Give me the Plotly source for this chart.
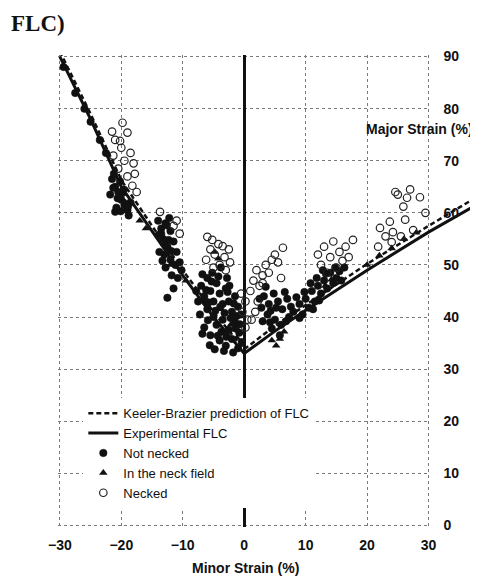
import plotly.graph_objects as go

# ---------------- data ----------------
x_ticks = [-30, -20, -10, 0, 10, 20, 30]
y_ticks = [0, 10, 20, 30, 40, 50, 60, 70, 80, 90]

# Experimental FLC (solid)
flc_x = [-30, -25, -20, -15, -10, -5, 0, 5, 10, 20, 30, 38.5]
flc_y = [90, 78, 65, 56.5, 48, 40, 33, 37.3, 41.3, 49, 56.3, 62]

# Keeler-Brazier prediction (dashed)
kb_x = [-30, -25, -20, -15, -10, -5, 0, 5, 10, 20, 30, 38.5]
kb_y = [91, 79, 66.3, 57.5, 49, 41, 33.8, 38.3, 42.3, 50.2, 57.5, 63.5]

# Not necked (filled circles)
nn_x = [-29.4, -27.5, -26, -25, -23.5, -22.5,
        -21.5, -21, -20.5, -21.8, -20, -19.5, -20.8, -19, -18.5, -19.8, -18.8, -20.2, -21.2,
        -21.3, -20.6, -19.6, -18.9, -20.1, -21,
        -14, -13.5, -12.8, -12, -13.2, -12.5, -11.5, -13.8, -12, -11, -10.5, -12.8, -11.8, -10.8,
        -13.5, -12.2, -11.5, -12.5,
        -13.9, -13, -12.3, -11.2, -10.2, -13.3, -12.6, -11.9,
        -7, -6.5, -6, -5.5, -5, -4.5, -4, -3.5, -3, -2.5, -2, -1.5, -1, -6, -5, -4.5, -3.5,
        -2.5, -1.5, -0.8, -5.5, -4, -3, -2, -1, -6.5, -7.2, -5.2, -3.8, -2.8, -4.8, -3.3,
        -1.8, -0.5, -7.5,
        -6.8, -6.2, -5.8, -5.3, -4.7, -4.2, -3.7, -3.2, -2.7, -2.2, -1.7, -1.2, -0.7, -6.8,
        -5.9, -4.3, -2.9, -1.4, -0.4, -5.6, -3.9, -2.4, -6.3, -7.8,
        3.2, 4, 4.8, 5.5, 6.2, 7, 3.8, 5, 6, 7.3, 4.5, 5.8, 2.8,
        3.5, 4.3, 5.2, 6.6, 7.6, 3, 4.2, 6.8, 2.5,
        8, 9, 10, 10.5, 11, 11.5, 12, 12.5, 13, 13.5, 14, 14.5, 15, 15.5, 11.8, 12.8, 9.5,
        8.5, 9.8, 10.8, 11.2, 12.2, 13.3, 14.8, 15.8, 16.3, 9]
nn_y = [88, 83, 80, 77.5, 74, 71.5,
        66.5, 65, 64, 63.5, 62.5, 61.5, 61, 60.5, 62, 63.8, 59.5, 66, 67.5,
        64.8, 62.8, 64.5, 61.2, 60.3, 60.2,
        58.5, 57, 58, 56.5, 55, 53.5, 54.5, 52.5, 51, 52.5, 50.5, 49.5, 48, 47.5,
        56, 59, 45.5, 43.7,
        55.8, 52, 54.8, 50, 49, 50.8, 57.6, 52.7,
        46, 44, 47.5, 45, 43, 46.5, 44.5, 42.5, 45.5, 43, 41, 44, 42, 41.5, 40, 38.5, 39.5,
        37.5, 39, 37, 36.5, 35.5, 34.5, 35.8, 34, 38, 40.5, 48.5, 49.5, 47.5, 33.8, 33.5,
        33.2, 40.5, 43,
        48.2, 45.2, 42.8, 46.8, 41.2, 47.8, 37.2, 40.8, 44.8, 39.8, 42.6, 40.2, 38.6, 36.8,
        39.4, 36.4, 36.2, 37.8, 35.2, 34.6, 42, 46, 43, 45,
        44, 42.5, 44.5, 43, 41.5, 43.5, 40.5, 39.5, 38.5, 40, 37.8, 36.5, 41.8,
        45.8, 41.2, 41.8, 44.8, 42, 39.2, 39, 39.2, 43.5,
        41, 42.5, 43.5, 41.8, 45, 43, 46, 44.5, 47, 45.5, 48.5, 46.5, 47.5, 48.8, 47.5, 49, 40.5,
        43.8, 44.8, 46.5, 41.5, 43.2, 48.3, 49.5, 47, 49.5, 39.8]

# In the neck field (filled triangles)
nf_x = [-20.5, -19.3, -17, -16, -13, -12, -9.5, -4.8, -4.2, -3.8, -2.2, -1.2,
        4.5, 5.2, 5.8, 6.5, 13.2, 14.2, 20, 22, 24, 26, 28]
nf_y = [63.2, 62, 58.5, 57, 54, 50, 47, 52.5, 51.2, 41.5, 38.5, 36,
        35.5, 34.5, 35.8, 37.2, 46, 47.2, 50, 51.8, 53.2, 55, 56.2]

# Necked (open circles)
nk_x = [-19.8, -21.5, -19, -21, -20, -18.5, -21.3, -19.5, -18, -20.5, -17.8, -19, -18.2,
        -17.5, -20.2,
        -13.7, -11, -10.5, -11.5,
        -6, -5.2, -4.2, -3.5, -2.5, -5.5, -4.8, -3.2, -2.3, -6.2, -4, -3, -5,
        -0.5, 0.2, -0.3, 0.5, 0.2,
        1, 1.5, 2, 2.5, 3, 3.5, 4, 4.5, 5, 5.5, 6.3, 2.2, 1.8, 1.2, 6, 3,
        12, 12.5, 13, 14, 14.5, 15, 15.5, 16, 16.5, 17, 17.7, 13.5,
        21.8, 22.1, 23.7, 24, 24.2, 24.6, 25.9, 26.2, 26.5, 27.5, 25, 27, 28.6, 29.5,
        30.5, 32.7, 33.5, 23, 25.5]
nk_y = [77.3, 75.6, 75.4, 74, 72.5, 71.5, 71, 70, 69.5, 68.5, 67.5, 67, 65.2,
        64, 73.8,
        60.2, 58.5, 56, 57.5,
        55.4, 54.8, 54, 53.6, 53, 53, 52, 51.5, 50.5, 51, 50, 49, 49.5,
        44.5, 43, 41, 39.5, 38,
        45, 47, 49, 46, 48, 50, 48.5, 51, 52, 50.5, 53.3, 43, 41, 39.5, 47.5, 46.5,
        52, 50, 53.5, 51.5, 54.5, 49.5, 52.5, 50.8, 53.5, 51.5, 54.8, 48.5,
        53.5, 57.1, 58.3, 54.4, 56.3, 64, 61.2, 58.7, 62.9, 56.7, 63.5, 64.5, 63, 60,
        61.5, 60.2, 60.5, 55.5, 55.5]

# ---------------- geometry (reference pixel coordinates) ----------------
OFF = 8                         # page body margin of the html file
W, H = 478 - OFF, 579 - OFF     # figure fills the window after the body margin
PX_XM30, PX_X30 = 59.5, 428.5   # pixels of x = -30 and x = 30
PX_Y0, PX_Y90 = 525.0, 57.0     # pixels of y = 0 and y = 90
SX = (PX_X30 - PX_XM30) / 60.0
SY = (PX_Y0 - PX_Y90) / 90.0
PADX, PADY = 0.3, 0.3           # tiny padding so the edge grid lines are kept

left_px = PX_XM30 - PADX * SX
right_main_px = PX_X30 + PADX * SX
bottom_px = PX_Y0 + PADY * SY
top_px = PX_Y90 - PADY * SY

ML = left_px - OFF
MR = 0
MT = top_px - OFF
MB = 579 - bottom_px
plot_w = 478 - left_px
plot_h = bottom_px - top_px
dom_main = (right_main_px - left_px) / plot_w
x2_max = -30 - PADX + plot_w / SX


def px_x(p):
    return (p - left_px) / plot_w


def px_y(p):
    return (bottom_px - p) / plot_h


FONT = "Liberation Sans"
INK = "#111111"

fig = go.Figure()

fig.add_trace(go.Scatter(
    x=nn_x, y=nn_y, mode="markers", name="Not necked",
    marker=dict(symbol="circle", size=7.5, color=INK, line=dict(color=INK, width=0.5)),
    xaxis="x", yaxis="y", cliponaxis=False, legendrank=3))
fig.add_trace(go.Scatter(
    x=nf_x, y=nf_y, mode="markers", name="In the neck field",
    marker=dict(symbol="triangle-up", size=7.5, color=INK),
    xaxis="x", yaxis="y", cliponaxis=False, legendrank=4))
fig.add_trace(go.Scatter(
    x=nk_x, y=nk_y, mode="markers", name="Necked",
    marker=dict(symbol="circle-open", size=7.5, color="#222222", line=dict(width=1.2)),
    xaxis="x", yaxis="y", cliponaxis=False, legendrank=5))

fig.add_trace(go.Scatter(
    x=kb_x, y=kb_y, mode="lines", name="Keeler-Brazier prediction of FLC",
    line=dict(color=INK, width=2.5, dash="5px,3px"),
    xaxis="x2", yaxis="y2", legendrank=1))
fig.add_trace(go.Scatter(
    x=flc_x, y=flc_y, mode="lines", name="Experimental FLC",
    line=dict(color=INK, width=3),
    xaxis="x2", yaxis="y2", legendrank=2))

grid = dict(showgrid=True, gridcolor="#7a7a7a", griddash="dot", gridwidth=1)
tickfont = dict(family=FONT, size=14, weight="bold", color=INK)

fig.update_layout(
    width=W, height=H,
    margin=dict(l=ML, r=MR, t=MT, b=MB, autoexpand=False),
    paper_bgcolor="white", plot_bgcolor="rgba(0,0,0,0)",
    font=dict(family=FONT, color=INK),
    showlegend=True,
    xaxis=dict(domain=[0, dom_main], range=[-30 - PADX, 30 + PADX], tickvals=x_ticks,
               ticks="", showline=False, zeroline=True, zerolinecolor=INK,
               zerolinewidth=2.5, anchor="y", ticklabelstandoff=8,
               tickfont=tickfont, automargin=False, **grid),
    yaxis=dict(domain=[0, 1], range=[-PADY, 90 + PADY], tickvals=y_ticks, side="right",
               ticks="", showline=False, zeroline=False, anchor="x",
               ticklabelstandoff=12, tickfont=tickfont, automargin=False, **grid),
    xaxis2=dict(domain=[0, 1], range=[-30 - PADX, x2_max], visible=False, anchor="y2"),
    yaxis2=dict(domain=[0, 1], range=[-PADY, 90 + PADY], visible=False, anchor="x2"),
    legend=dict(x=px_x(83), y=px_y(398), xanchor="left", yanchor="top",
                bgcolor="white", borderwidth=0, itemwidth=30,
                font=dict(family=FONT, size=13, color=INK),
                tracegroupgap=0),
    annotations=[
        dict(text="<b>FLC)</b>", xref="paper", yref="paper",
             x=px_x(9), y=px_y(24), xanchor="left", yanchor="middle",
             showarrow=False,
             font=dict(family="Liberation Serif", size=23, color=INK)),
        dict(text="<b>Major Strain (%)</b>", xref="paper", yref="paper",
             x=px_x(419), y=px_y(129), xanchor="center", yanchor="middle",
             showarrow=False, font=dict(family=FONT, size=14, color=INK)),
        dict(text="<b>Minor Strain (%)</b>", xref="paper", yref="paper",
             x=px_x(245), y=px_y(567), xanchor="center", yanchor="middle",
             showarrow=False, font=dict(family=FONT, size=14, color=INK)),
    ],
)

fig.write_html("out.html")
